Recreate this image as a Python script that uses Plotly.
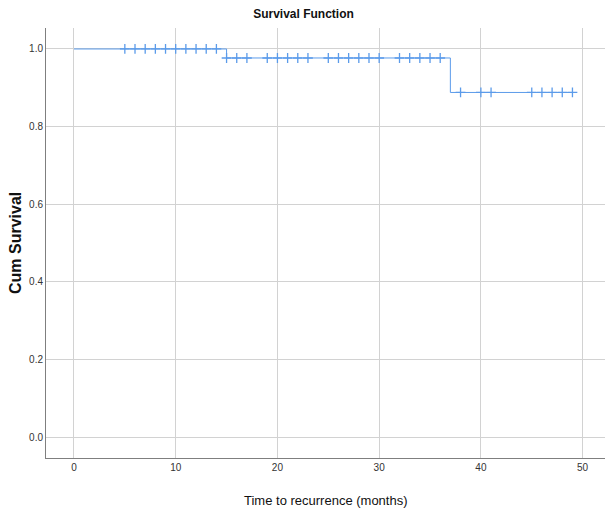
import plotly.graph_objects as go

# Step function (Kaplan-Meier estimate)
step_times = [0, 15, 37, 49]
step_surv = [1.0, 0.9768, 0.888, 0.888]

# Censored observations
cens_t1 = [5, 6, 7, 8, 9, 10, 11, 12, 13, 14]
cens_s1 = [1.0] * len(cens_t1)
cens_t2 = [15, 16, 17, 19, 20, 21, 22, 23, 25, 26, 27, 28, 29, 30, 32, 33, 34, 35, 36]
cens_s2 = [0.9768] * len(cens_t2)
cens_t3 = [38, 40, 41, 45, 46, 47, 48, 49]
cens_s3 = [0.888] * len(cens_t3)

x_ticks = [0, 10, 20, 30, 40, 50]
y_ticks = [0.0, 0.2, 0.4, 0.6, 0.8, 1.0]
y_tick_text = ["0.0", "0.2", "0.4", "0.6", "0.8", "1.0"]

BLUE = "#5b9bea"
FONT = "Liberation Sans Narrow, Arial Narrow, Liberation Sans, Arial, sans-serif"

fig = go.Figure()
fig.add_trace(go.Scatter(x=step_times, y=step_surv, mode="lines",
                         line=dict(color=BLUE, width=1, shape="hv"),
                         showlegend=False, hoverinfo="skip"))
fig.add_trace(go.Scatter(x=cens_t1 + cens_t2 + cens_t3,
                         y=cens_s1 + cens_s2 + cens_s3,
                         mode="markers",
                         marker=dict(symbol="cross-thin", size=7,
                                     line=dict(color=BLUE, width=1.3)),
                         showlegend=False))

fig.update_layout(
    width=607, height=515,
    margin=dict(l=46, r=2, t=28, b=57),
    paper_bgcolor="white", plot_bgcolor="white",
    font=dict(family=FONT, color="#222222", size=10),
    title=dict(text="<b>Survival Function</b>", x=0.5, xref="container",
               y=1 - 14 / 515, yref="container", yanchor="middle",
               font=dict(family=FONT, size=12, color="#111111")),
    annotations=[
        dict(text="Time to recurrence (months)", xref="paper", yref="paper",
             x=0.5, y=-42 / 430, xanchor="center", yanchor="middle",
             showarrow=False, font=dict(family=FONT, size=13, color="#111111")),
        dict(text="<b>Cum Survival</b>", xref="paper", yref="paper",
             x=-31 / 559, y=0.5, xanchor="center", yanchor="middle", textangle=-90,
             showarrow=False, font=dict(family="Liberation Sans, Arial, sans-serif",
                                        size=16, color="#111111")),
    ],
)
fig.update_xaxes(
    range=[-2.75, 52.2], tickvals=x_ticks, automargin=False,
    showgrid=True, gridcolor="#d2d2d2", gridwidth=1,
    zeroline=False, showline=True, linecolor="#7f7f7f", linewidth=1,
    ticks="", ticklen=0,
    tickfont=dict(family=FONT, size=10, color="#333333"),
)
fig.update_yaxes(
    range=[-0.0533, 1.054], tickvals=y_ticks, ticktext=y_tick_text, automargin=False,
    showgrid=True, gridcolor="#d2d2d2", gridwidth=1,
    zeroline=False, showline=True, linecolor="#7f7f7f", linewidth=1,
    ticks="", ticklen=0,
    tickfont=dict(family=FONT, size=10, color="#333333"),
)

fig.write_html("out.html", config={"displayModeBar": False},
               post_script="document.body.style.margin='0px';document.body.style.overflow='hidden';")
